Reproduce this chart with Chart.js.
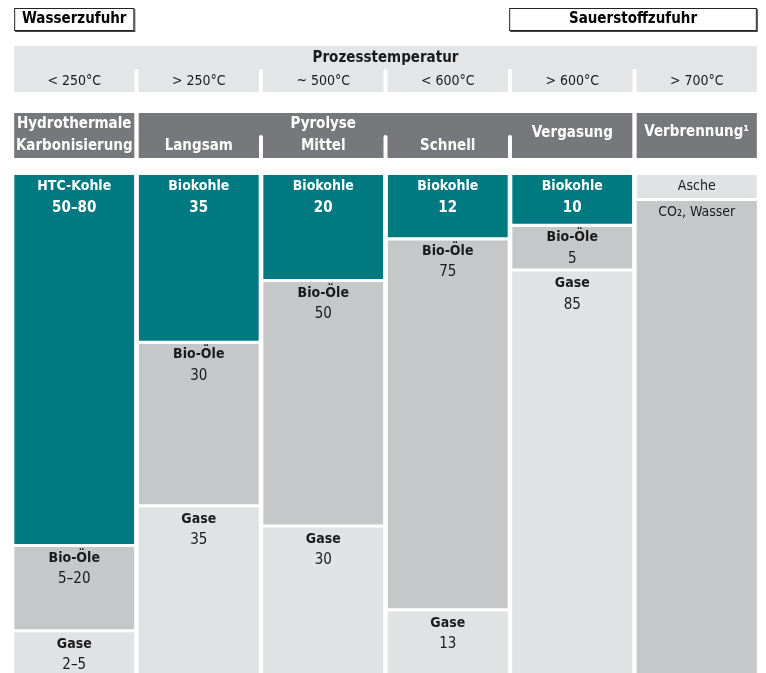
<!DOCTYPE html>
<html lang="de">
<head>
<meta charset="utf-8">
<script src="https://cdn.jsdelivr.net/npm/chart.js@4.4.1/dist/chart.umd.min.js"></script>
<style>
  html, body { margin: 0; padding: 0; background: #fff; }
  #wrap { position: relative; width: 766px; height: 673px; }
</style>
</head>
<body>
<div id="wrap"><canvas id="chart"></canvas></div>
<script>
// ── Daten ─────────────────────────────────────────
const verfahren    = ['Hydrothermale Karbonisierung', 'Langsam', 'Mittel', 'Schnell', 'Vergasung', 'Verbrennung'];
const temperaturen = ['< 250°C', '> 250°C', '~ 500°C', '< 600°C', '> 600°C', '> 700°C'];

// sichtbare Anteile der Säulen (von oben nach unten)
const kohle     = [74.7, 33.9, 21.5, 13.1, 10.4, 0];
const asche     = [0, 0, 0, 0, 0, 5.2];
const bioOele   = [17.1, 32.8, 49.3, 74.5, 9.0, 0];
const co2Wasser = [0, 0, 0, 0, 0, 94.8];
const gase      = [8.2, 33.3, 29.2, 12.4, 80.6, 0];

// Beschriftungen in den Feldern
const kohleNamen  = ['HTC-Kohle', 'Biokohle', 'Biokohle', 'Biokohle', 'Biokohle', ''];
const kohleWerte  = ['50–80', '35', '20', '12', '10', ''];
const bioOeleWerte = ['5–20', '30', '50', '75', '5', ''];
const gaseWerte   = ['2–5', '35', '30', '13', '85', ''];

const TEAL  = '#007a80';
const GRAU  = '#c6c7c9';
const HELL  = '#e1e2e4';
const BAND  = '#e4e5e6';
const DUNKEL = '#77787b';
const TEXT  = '#1a1a1a';
const FONT  = '"Liberation Sans Narrow", "DejaVu Sans Condensed", "Open Sans", sans-serif';

const gap = { top: 0, right: 0, bottom: 3, left: 0 };

function text(ctx, s, x, y, size, weight, color) {
    ctx.font = `${weight} ${size}px ${FONT}`;
    ctx.fillStyle = color;
    ctx.textAlign = 'center';
    ctx.textBaseline = 'middle';
    ctx.fillText(s, x, y);
}

// ── Kopfbereich + Feldbeschriftungen ─────────────
const layoutPlugin = {
    id: 'layoutPlugin',
    afterDraw(chart) {
        const ctx = chart.ctx;
        const bars = chart.getDatasetMeta(0).data;
        const L = i => bars[i].x - bars[i].width / 2;
        const R = i => bars[i].x + bars[i].width / 2;
        const mid = i => (R(i) + L(i + 1)) / 2;
        ctx.save();

        // Wasserzufuhr / Sauerstoffzufuhr
        const box = (x1, x2, label) => {
            ctx.fillStyle = '#444';
            ctx.fillRect(x1 + 1, 9, x2 - x1, 23);
            ctx.fillStyle = '#fff';
            ctx.fillRect(x1, 8, x2 - x1, 23);
            ctx.strokeStyle = '#222';
            ctx.lineWidth = 1;
            ctx.strokeRect(x1 + 0.5, 8.5, x2 - x1 - 1, 22);
            text(ctx, label, (x1 + x2) / 2, 19.5, 15, 'bold', '#000');
        };
        box(L(0), R(0), 'Wasserzufuhr');
        box(L(4) - 3, R(5), 'Sauerstoffzufuhr');

        // Prozesstemperatur
        ctx.fillStyle = BAND;
        ctx.fillRect(L(0), 46, R(5) - L(0), 46);
        text(ctx, 'Prozesstemperatur', (L(0) + R(5)) / 2, 58, 15, 'bold', TEXT);
        for (let i = 0; i < 5; i++) {
            ctx.fillStyle = '#fff';
            ctx.beginPath();
            ctx.roundRect(mid(i) - 2, 69, 4, 24, [2, 2, 0, 0]);
            ctx.fill();
        }
        temperaturen.forEach((t, i) => text(ctx, t, bars[i].x, 81, 14, 'normal', TEXT));

        // Verfahren
        ctx.fillStyle = DUNKEL;
        ctx.fillRect(L(0), 113, R(0) - L(0), 45);
        ctx.fillRect(L(1), 113, R(4) - L(1), 45);
        ctx.fillRect(L(5), 113, R(5) - L(5), 45);
        for (let i = 1; i < 4; i++) {
            ctx.fillStyle = '#fff';
            ctx.beginPath();
            ctx.roundRect(mid(i) - 2, 135, 4, 24, [2, 2, 0, 0]);
            ctx.fill();
        }
        const W = '#fff';
        text(ctx, 'Hydrothermale', bars[0].x, 124, 15, 'bold', W);
        text(ctx, 'Karbonisierung', bars[0].x, 146, 15, 'bold', W);
        text(ctx, 'Pyrolyse', bars[2].x, 124, 15, 'bold', W);
        [1, 2, 3].forEach(i => text(ctx, verfahren[i], bars[i].x, 146, 15, 'bold', W));
        text(ctx, verfahren[4], bars[4].x, 133, 15, 'bold', W);
        text(ctx, 'Verbrennung¹', bars[5].x, 132, 15, 'bold', W);

        // Feldbeschriftungen
        const yScale = chart.scales.y;
        verfahren.forEach((_, i) => {
            const x = bars[i].x;
            if (kohle[i] > 0) {
                const top = yScale.getPixelForValue(0);
                text(ctx, kohleNamen[i], x, top + 11, 14, 'bold', W);
                text(ctx, kohleWerte[i], x, top + 33, 15, 'bold', W);
            }
            if (bioOele[i] > 0) {
                const top = yScale.getPixelForValue(kohle[i]);
                text(ctx, 'Bio-Öle', x, top + 11, 14, 'bold', TEXT);
                text(ctx, bioOeleWerte[i], x, top + 32, 15, 'normal', TEXT);
            }
            if (gase[i] > 0) {
                const top = yScale.getPixelForValue(kohle[i] + bioOele[i]);
                text(ctx, 'Gase', x, top + 12, 14, 'bold', TEXT);
                text(ctx, gaseWerte[i], x, top + 33, 15, 'normal', TEXT);
            }
            if (asche[i] > 0) {
                text(ctx, 'Asche', x, yScale.getPixelForValue(0) + 11, 14, 'normal', TEXT);
            }
            if (co2Wasser[i] > 0) {
                text(ctx, 'CO₂, Wasser', x, yScale.getPixelForValue(asche[i]) + 11, 14, 'normal', TEXT);
            }
        });
        ctx.restore();
    }
};

new Chart(document.getElementById('chart'), {
    type: 'bar',
    data: {
        labels: verfahren,
        datasets: [
            { label: 'Kohle',      data: kohle,     backgroundColor: TEAL, borderColor: '#fff', borderWidth: gap },
            { label: 'Asche',      data: asche,     backgroundColor: HELL, borderColor: '#fff', borderWidth: gap },
            { label: 'Bio-Öle',    data: bioOele,   backgroundColor: GRAU, borderColor: '#fff', borderWidth: gap },
            { label: 'CO2, Wasser', data: co2Wasser, backgroundColor: GRAU, borderWidth: 0 },
            { label: 'Gase',       data: gase,      backgroundColor: HELL, borderWidth: 0 },
        ]
    },
    options: {
        responsive: true,
        maintainAspectRatio: false,
        animation: false,
        layout: { padding: { top: 175, left: 12, right: 7, bottom: 0 } },
        datasets: { bar: { categoryPercentage: 1, barPercentage: 0.965, borderSkipped: false } },
        plugins: { legend: { display: false }, tooltip: { enabled: false } },
        scales: {
            x: { stacked: true, display: false },
            y: { stacked: true, display: false, min: 0, max: 100, reverse: true }
        }
    },
    plugins: [layoutPlugin]
});
</script>
</body>
</html>
